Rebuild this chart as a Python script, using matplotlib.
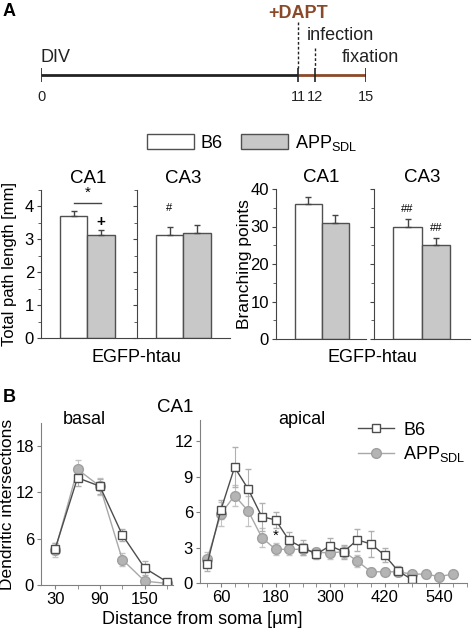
import numpy as np
import matplotlib
matplotlib.use('Agg')
import matplotlib.pyplot as plt
from matplotlib.patches import Patch
from matplotlib.lines import Line2D

plt.rcParams['font.family'] = ['Liberation Sans', 'DejaVu Sans']
plt.rcParams['mathtext.fontset'] = 'custom'
plt.rcParams['mathtext.rm'] = 'Liberation Sans'

# timeline
tl_days = [0, 11, 12, 15]
tl_labels = ['0', '11', '12', '15']

# bars (B6, APP)
groups = ['B6', 'APP$_{\\mathregular{SDL}}$']
path_ca1 = [3.70, 3.12]
path_ca1_err = [0.15, 0.16]
path_ca3 = [3.12, 3.18]
path_ca3_err = [0.27, 0.26]
branch_ca1 = [36.0, 31.0]
branch_ca1_err = [2.0, 2.0]
branch_ca3 = [30.0, 25.0]
branch_ca3_err = [2.0, 2.0]

# Sholl
basal_x = [30, 60, 90, 120, 150, 180]
basal_b6 = [4.7, 13.9, 12.8, 6.5, 2.2, 0.4]
basal_b6_err = [0.7, 1.1, 1.0, 0.8, 0.9, 0.2]
basal_app = [4.5, 15.0, 12.8, 3.3, 0.5, 0.2]
basal_app_err = [0.9, 1.2, 1.1, 0.8, 0.3, 0.1]

apical_x_b6 = [30, 60, 90, 120, 150, 180, 210, 240, 270, 300, 330, 360, 390, 420, 450, 480]
apical_b6 = [1.65, 6.2, 9.8, 7.95, 5.6, 5.35, 3.6, 3.0, 2.45, 3.15, 2.65, 3.65, 3.3, 2.35, 1.0, 0.3]
apical_b6_err = [0.6, 0.8, 1.7, 1.7, 1.2, 0.7, 0.7, 0.6, 0.4, 0.7, 0.6, 0.9, 1.1, 0.6, 0.4, 0.2]
apical_x_app = [30, 60, 90, 120, 150, 180, 210, 240, 270, 300, 330, 360, 390, 420, 450, 480, 510, 540, 570]
apical_app = [2.05, 5.85, 7.4, 6.1, 3.85, 2.85, 2.85, 2.85, 2.6, 2.55, 2.65, 1.85, 0.95, 0.95, 0.95, 0.75, 0.75, 0.55, 0.75]
apical_app_err = [0.6, 1.0, 0.9, 1.3, 0.8, 0.5, 0.5, 0.5, 0.4, 0.5, 0.5, 0.5, 0.3, 0.3, 0.3, 0.3, 0.3, 0.3, 0.3]

W, H = 472, 633
fig = plt.figure(figsize=(W / 100, H / 100), dpi=100)


def px_axes(x0, y0, x1, y1):
    return fig.add_axes([x0 / W, 1 - y1 / H, (x1 - x0) / W, (y1 - y0) / H])


brown = '#8a4a2a'
edge = '#505050'
grayfill = '#c8c8c8'

# ---- panel A timeline ----
fig.text(3 / W, 1 - 12 / H, 'A', fontsize=13, fontweight='bold', va='center')
ax_t = px_axes(41, 0, 366, 110)
tl_draw = [0, 257, 274, 325]   # schematic spacing
ax_t.set_xscale('function', functions=(lambda d: np.interp(d, tl_days, tl_draw),
                                       lambda p: np.interp(p, tl_draw, tl_days)))
ax_t.set_xlim(0, 15)
ax_t.set_ylim(110, 0)
ax_t.axis('off')
ax_t.plot(tl_days[:2], [75, 75], color='#222', lw=2, solid_capstyle='butt')
ax_t.plot(tl_days[1:], [75, 75, 75], color=brown, lw=2, solid_capstyle='butt')
ax_t.vlines(tl_days, 68, 82, colors='#222', lw=1.2)
ax_t.vlines(tl_days[1], 22, 68, colors='#222', lw=1, linestyles=(0, (2, 1.5)))
ax_t.vlines(tl_days[2], 48, 68, colors='#222', lw=1, linestyles=(0, (2, 1.5)))
for d, lab in zip(tl_days, tl_labels):
    ax_t.text(d, 97, lab, ha='center', va='center', fontsize=10.5, color='#222')
ax_t.text(0, 57, 'DIV', ha='left', va='center', fontsize=13, color='#222')
ax_t.text(tl_days[1], 13, '+DAPT', ha='center', va='center', fontsize=13,
          fontweight='bold', color=brown)
ax_t.annotate('infection', (tl_days[1], 35), xytext=(6, 0), textcoords='offset points',
              ha='left', va='center', fontsize=13, color='#222')
ax_t.annotate('fixation', (tl_days[3], 58), xytext=(24, 0), textcoords='offset points',
              ha='right', va='center', fontsize=13, color='#222')

# ---- bar panels ----
fig.legend(handles=[Patch(facecolor='white', edgecolor=edge),
                    Patch(facecolor=grayfill, edgecolor=edge)],
           labels=groups, ncol=2, loc='center', bbox_to_anchor=(252 / W, 1 - 143 / H),
           frameon=False, handlelength=2.6, handleheight=0.9, columnspacing=1.0,
           handletextpad=0.4, fontsize=13)


def bar_panel(box, vals, errs, ylim, major, minor, title, bw, off, labels=True):
    ax = px_axes(*box)
    axw = box[2] - box[0]
    xs = [0, 1]
    ax.bar(xs, vals, width=1, color=['white', grayfill], edgecolor=edge, linewidth=1)
    ax.errorbar(xs, vals, yerr=[[0, 0], errs], fmt='none', ecolor='#444',
                elinewidth=1, capsize=2.5, capthick=1)
    ax.set_xlim(-off / bw, (axw - off) / bw)
    ax.set_ylim(*ylim)
    for s in ['top', 'right']:
        ax.spines[s].set_visible(False)
    for s in ['left', 'bottom']:
        ax.spines[s].set_color('#444')
    ax.set_xticks([])
    ax.set_yticks(major)
    ax.set_yticks(minor, minor=True)
    ax.tick_params(axis='y', which='major', direction='out', length=3, color='#444',
                   labelsize=12, pad=2, labelleft=labels)
    ax.tick_params(axis='y', which='minor', direction='out', length=2, color='#444')
    ax.set_title(title, fontsize=13.5, pad=5)
    return ax


ax1 = bar_panel((41, 190, 135, 338), path_ca1, path_ca1_err, (0, 4.5),
                [0, 1, 2, 3, 4], np.arange(0, 4.6, 0.5), 'CA1', 27.5, 32.5)
ax1.set_ylabel('Total path length [mm]', fontsize=12)
ax1.yaxis.set_label_coords(-0.26, 0.5)
ax1.plot([0, 1], [4.1, 4.1], color='#444', lw=1)
ax1.text(0.5, 4.2, '*', ha='center', va='bottom', fontsize=11)
ax1.text(1, 3.52, '+', ha='center', va='center', fontsize=11, fontweight='bold')

ax2 = bar_panel((137, 190, 230, 338), path_ca3, path_ca3_err, (0, 4.5),
                [0, 1, 2, 3, 4], np.arange(0, 4.6, 0.5), 'CA3', 27.5, 32.5, labels=False)
ax2.text(0, 3.94, '#', ha='center', va='center', fontsize=8)

ax3 = bar_panel((276, 189, 366, 339), branch_ca1, branch_ca1_err, (0, 40),
                [0, 10, 20, 30, 40], np.arange(0, 41, 5), 'CA1', 27, 32)
ax3.set_ylabel('Branching points', fontsize=12.5)
ax3.yaxis.set_label_coords(-0.27, 0.5)

ax4 = bar_panel((374, 189, 470, 339), branch_ca3, branch_ca3_err, (0, 40),
                [0, 10, 20, 30, 40], np.arange(0, 41, 5), 'CA3', 28.5, 33.5, labels=False)
ax4.text(0, 34.7, '##', ha='center', va='center', fontsize=8)
ax4.text(1, 29.6, '##', ha='center', va='center', fontsize=8)

fig.text(136 / W, 1 - 357 / H, 'EGFP-htau', ha='center', va='center', fontsize=13)
fig.text(372 / W, 1 - 357 / H, 'EGFP-htau', ha='center', va='center', fontsize=13)

# ---- panel B ----
fig.text(3 / W, 1 - 398 / H, 'B', fontsize=13, fontweight='bold', va='center')
fig.text(175 / W, 1 - 408 / H, 'CA1', ha='center', va='center', fontsize=13.5)

b6_kw = dict(color='#4d4d4d', marker='s', mfc='white', mec='#4d4d4d', ms=6, lw=1,
             ecolor='#b0b0b0', elinewidth=0.8, capsize=2)
app_kw = dict(color='#a8a8a8', marker='o', mfc='#b4b4b4', mec='#a0a0a0', ms=7, lw=1,
              ecolor='#c4c4c4', elinewidth=0.8, capsize=2)


def sholl_axes(box, xlim, ylim, xmaj, xmin, ymaj):
    ax = px_axes(*box)
    ax.set_xlim(*xlim)
    ax.set_ylim(*ylim)
    for s in ['top', 'right']:
        ax.spines[s].set_visible(False)
    for s in ['left', 'bottom']:
        ax.spines[s].set_color('#808080')
    ax.set_xticks(xmaj)
    ax.set_xticks(xmin, minor=True)
    ax.set_yticks(ymaj)
    ax.tick_params(which='both', direction='out', length=3, color='#808080',
                   labelsize=12, pad=2)
    ax.tick_params(which='minor', length=3)
    return ax


axb = sholl_axes((41, 423, 173, 585), (11, 188), (0, 21), [30, 90, 150],
                 [60, 120, 180], [0, 6, 12, 18])
axb.errorbar(basal_x, basal_app, yerr=basal_app_err, **app_kw)
axb.errorbar(basal_x, basal_b6, yerr=basal_b6_err, **b6_kw)
axb.set_ylabel('Dendritic intersections', fontsize=12.5)
axb.yaxis.set_label_coords(-0.2, 0.5)
axb.text(0.33, 1.02, 'basal', transform=axb.transAxes, ha='center', va='center', fontsize=13)

axa = sholl_axes((200, 420, 467, 583), (14, 601), (0, 13.8), [60, 180, 300, 420, 540],
                 apical_x_app + [600], [0, 3, 6, 9, 12])
axa.errorbar(apical_x_app, apical_app, yerr=apical_app_err, **app_kw)
axa.errorbar(apical_x_b6, apical_b6, yerr=apical_b6_err, **b6_kw)
axa.text(180, 4.0, '*', ha='center', va='center', fontsize=11)
axa.text(0.38, 1.0, 'apical', transform=axa.transAxes, ha='center', va='center', fontsize=13)

fig.legend(handles=[Line2D([], [], color='#4d4d4d', marker='s', mfc='white', mec='#4d4d4d', ms=6, lw=1),
                    Line2D([], [], color='#a8a8a8', marker='o', mfc='#b4b4b4', mec='#a0a0a0', ms=7, lw=1)],
           labels=groups, loc='center', bbox_to_anchor=(412 / W, 1 - 443 / H), frameon=False,
           handlelength=2.0, handletextpad=0.5, labelspacing=0.3, fontsize=13)

fig.text(202 / W, 1 - 619 / H, 'Distance from soma [µm]', ha='center', va='center', fontsize=13)

fig.savefig('out.png', dpi=100)
